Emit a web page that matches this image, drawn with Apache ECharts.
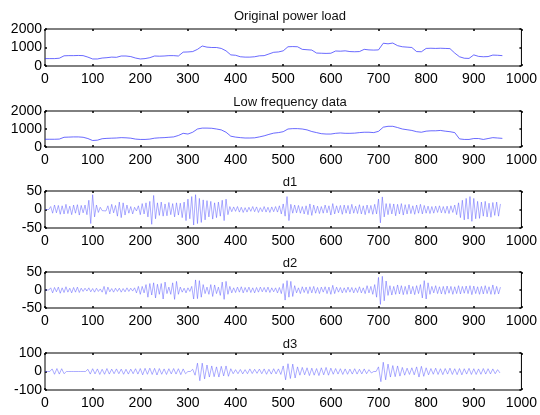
<!DOCTYPE html>
<html>
<head>
<meta charset="utf-8">
<script src="https://cdn.jsdelivr.net/npm/echarts@6/dist/echarts.min.js"></script>
<style>
  html, body { margin: 0; padding: 0; background: #fff; }
  #chart { width: 540px; height: 415px; }
</style>
</head>
<body>
<div id="chart"></div>
<script>
// panel titles
const titles = ['Original power load', 'Low frequency data', 'd1', 'd2', 'd3']

// x ticks shared by all panels
const xTicks = [0, 100, 200, 300, 400, 500, 600, 700, 800, 900, 1000]

// original load, sampled every 10
const originalStep = 10
const original = [
  400, 400, 400, 420, 550, 560, 560, 570, 560, 480,
  380, 380, 430, 450, 480, 470, 540, 540, 510, 430,
  380, 400, 450, 540, 530, 540, 560, 560, 540, 750,
  760, 780, 900, 1080, 1020, 1000, 1000, 950, 820, 600,
  580, 500, 480, 480, 500, 550, 560, 650, 740, 760,
  820, 1040, 1050, 1040, 900, 880, 860, 700, 690, 680,
  690, 810, 800, 820, 780, 770, 780, 900, 870, 860,
  870, 1230, 1200, 1240, 1100, 1040, 1020, 1000, 780, 770,
  950, 960, 950, 960, 950, 940, 700, 500, 420, 410,
  600, 520, 500, 510, 590, 580, 560
]

// low frequency approximation, sampled every 10
const lowStep = 10
const lowFreq = [
  430, 430, 430, 440, 540, 550, 560, 560, 540, 470,
  360, 380, 460, 480, 490, 500, 520, 510, 490, 440,
  420, 420, 440, 490, 510, 520, 540, 560, 640, 760,
  720, 820, 1000, 1050, 1050, 1040, 1000, 950, 820, 600,
  550, 520, 500, 500, 510, 560, 620, 700, 770, 800,
  850, 1000, 1020, 1020, 1000, 950, 860, 800, 740, 720,
  720, 760, 780, 760, 760, 770, 800, 820, 820, 800,
  870, 1100, 1150, 1150, 1080, 1000, 960, 920, 850, 820,
  880, 900, 900, 920, 880, 850, 800, 450, 420, 420,
  470, 470, 420, 470, 520, 500, 480
]

// detail d1, sampled every 4
const d1Step = 4
const d1 = [
  0, 0, 0, 8, -10, 12, -9, 11, -13, 10,
  -12, 14, -11, 9, -14, 12, -10, 13, -15, 11,
  -9, 12, -14, 25, -38, 40, -20, 12, -8, 6,
  -3, 2, -4, 10, -12, 14, -9, 11, -18, 20,
  -22, 18, -15, 12, -10, 8, -12, 6, -4, 10,
  -14, 16, -12, 18, -20, 22, -40, 38, -25, 18,
  -16, 20, -18, 15, -17, 19, -14, 16, -20, 18,
  -15, 17, -22, 20, -30, 28, -25, 35, -42, 40,
  -38, 30, -35, 26, -28, 24, -20, 22, -26, 18,
  -22, 20, -18, 25, -30, 28, -14, 8, -6, 7,
  -5, 8, -7, 6, -8, 5, -7, 6, -5, 8,
  -6, 7, -8, 5, -6, 8, -7, 6, -8, 7,
  -6, 8, -7, 10, -12, 15, -18, 35, -30, 14,
  -10, 12, -9, 11, -10, 8, -12, 10, -14, 15,
  -16, 12, -10, 9, -11, 8, -10, 12, -9, 10,
  -15, 16, -12, 10, -9, 11, -13, 12, -10, 11,
  -12, 14, -10, 9, -11, 13, -12, 10, -14, 12,
  -10, 11, -13, 14, -12, 28, -36, 34, -20, 16,
  -14, 16, -12, 15, -17, 14, -12, 16, -15, 13,
  -12, 14, -11, 10, -13, 12, -10, 14, -12, 11,
  -10, 9, -11, 8, -10, 9, -8, 10, -9, 8,
  -10, 9, -11, 10, -8, 12, -14, 18, -22, 25,
  -28, 30, -26, 35, -32, 30, -25, 22, -24, 20,
  -18, 22, -20, 17, -21, 19, -16, 20, -18, 15
]

// detail d2, sampled every 4
const d2Step = 4
const d2 = [
  0, 0, 0, 6, -8, 7, -5, 8, -9, 6,
  -7, 9, -6, 5, -8, 7, -6, 8, -7, 5,
  -4, 5, -3, 6, -5, 4, -6, 5, -4, 3,
  -6, 10, -12, 8, -5, 4, -6, 5, -4, 5,
  -6, 4, -5, 6, -4, 5, -3, 6, -8, 10,
  -12, 10, -8, 15, -20, 18, -14, 20, -22, 16,
  -12, 18, -25, 22, -10, 8, -12, 20, -26, 24,
  -12, 8, -6, 5, -8, 6, -4, 10, -25, 28,
  -24, 26, -20, 15, -10, 8, -12, 15, -18, 14,
  -10, 8, -15, 22, -26, 24, -12, 10, -8, 6,
  -7, 8, -6, 9, -8, 7, -6, 8, -7, 6,
  -8, 7, -6, 8, -5, 7, -6, 8, -7, 6,
  -5, 6, -8, 7, -10, 18, -28, 26, -20, 24,
  -18, 12, -8, 6, -10, 9, -7, 8, -10, 9,
  -8, 10, -9, 7, -10, 8, -6, 9, -10, 8,
  -12, 13, -10, 8, -6, 7, -8, 6, -7, 8,
  -6, 7, -8, 6, -7, 9, -8, 6, -10, 12,
  -8, 10, -12, 15, -20, 35, -40, 38, -30, 25,
  -15, 12, -14, 10, -12, 14, -11, 12, -13, 10,
  -12, 14, -11, 10, -13, 12, -10, 15, -22, 26,
  -25, 20, -12, 10, -8, 12, -10, 9, -11, 10,
  -12, 11, -9, 10, -12, 9, -10, 12, -11, 10,
  -9, 11, -10, 12, -13, 11, -10, 9, -12, 10,
  -11, 12, -10, 9, -12, 14, -12, 10, -11, 8
]

// detail d3, sampled every 5
const d3Step = 5
const d3 = [
  0, 0, 0, 14, -15, 16, -14, 15, -12, 0,
  0, 0, 0, 0, 0, 0, 0, 0, 12, -14,
  15, -13, 14, -16, 12, -15, 16, -14, 13, -12,
  14, -12, 13, -15, 12, -14, 13, -12, 15, -14,
  16, -18, 17, -15, 18, -16, 17, -19, 16, -15,
  14, -16, 15, -13, 16, -14, 15, -17, 14, -12,
  0, 0, 12, -20, 45, -50, 45, -40, 35, -30,
  30, -28, 25, -30, 28, -24, 30, -26, 15, -12,
  10, -12, 11, -13, 10, -12, 14, -11, 12, -10,
  13, -12, 14, -15, 12, -14, 15, -13, 14, -16,
  30, -45, 42, -38, 40, -35, 25, -20, 22, -18,
  20, -22, 18, -20, 16, -22, 20, -18, 22, -20,
  18, -15, 16, -14, 15, -16, 14, -15, 13, -14,
  15, -14, 12, -13, 14, -12, 10, -8, 0, 0,
  25, -55, 50, -45, 40, -30, 32, -28, 30, -25,
  22, -20, 18, -16, 20, -18, 25, -30, 28, -26,
  20, -18, 16, -15, 18, -16, 15, -17, 16, -14,
  18, -16, 15, -17, 16, -18, 15, -14, 17, -16,
  15, -16, 14, -15, 16, -14, 15, -13, 14, -12,
  10, -8
]

// y ranges per panel
const yMins = [0, 0, -50, -50, -100]
const yMaxs = [2000, 2000, 50, 50, 100]
const yIntervals = [1000, 1000, 50, 50, 100]

const seriesData = [
  [original, originalStep],
  [lowFreq, lowStep],
  [d1, d1Step],
  [d2, d2Step],
  [d3, d3Step]
]

const gridTops = [29, 111, 191, 272, 353]
const gridHeights = [37, 36, 37, 36, 37]
const titleTops = [5, 91, 171, 252, 333]

const font = 'Liberation Sans, Arial, sans-serif'
const chart = echarts.init(document.getElementById('chart'))

const grid = []
const xAxis = []
const yAxis = []
const series = []
const title = []

for (let i = 0; i < 5; i++) {
  grid.push({
    left: 45,
    width: 480,
    top: gridTops[i],
    height: gridHeights[i],
    show: true,
    borderColor: '#000',
    borderWidth: 1,
    backgroundColor: '#fff'
  })
  title.push({
    text: titles[i],
    left: 285,
    top: titleTops[i],
    textAlign: 'center',
    textStyle: { fontFamily: font, fontSize: 13, fontWeight: 'normal', color: '#111' }
  })
  const tick = { show: true, inside: true, length: 2, lineStyle: { color: '#000', width: 1.5 } }
  const label = { fontFamily: font, fontSize: 14, color: '#000', formatter: v => String(v) }
  const line = { show: false, onZero: false }
  xAxis.push({
    type: 'value', gridIndex: i, position: 'bottom',
    min: xTicks[0], max: xTicks[xTicks.length - 1], interval: 100,
    axisLine: line,
    axisTick: tick,
    splitLine: { show: false },
    axisLabel: { ...label, margin: 6 }
  })
  xAxis.push({
    type: 'value', gridIndex: i, position: 'top',
    min: xTicks[0], max: xTicks[xTicks.length - 1], interval: 100,
    axisLine: line,
    axisTick: tick,
    splitLine: { show: false },
    axisLabel: { show: false }
  })
  yAxis.push({
    type: 'value', gridIndex: i, position: 'left',
    min: yMins[i], max: yMaxs[i], interval: yIntervals[i],
    axisLine: line,
    axisTick: tick,
    splitLine: { show: false },
    axisLabel: { ...label, margin: 3 }
  })
  yAxis.push({
    type: 'value', gridIndex: i, position: 'right',
    min: yMins[i], max: yMaxs[i], interval: yIntervals[i],
    axisLine: line,
    axisTick: tick,
    splitLine: { show: false },
    axisLabel: { show: false }
  })
  const [vals, step] = seriesData[i]
  series.push({
    type: 'line',
    xAxisIndex: i * 2,
    yAxisIndex: i * 2,
    data: vals.map((v, k) => [k * step, v]),
    showSymbol: false,
    lineStyle: { color: i < 2 ? '#2a2aff' : '#5a5aff', width: i < 2 ? 0.7 : 0.5 },
    silent: true
  })
}

chart.setOption({
  animation: false,
  backgroundColor: '#fff',
  title,
  grid,
  xAxis,
  yAxis,
  series
})

window.addEventListener('resize', () => {
  chart.resize()
})
</script>
</body>
</html>
